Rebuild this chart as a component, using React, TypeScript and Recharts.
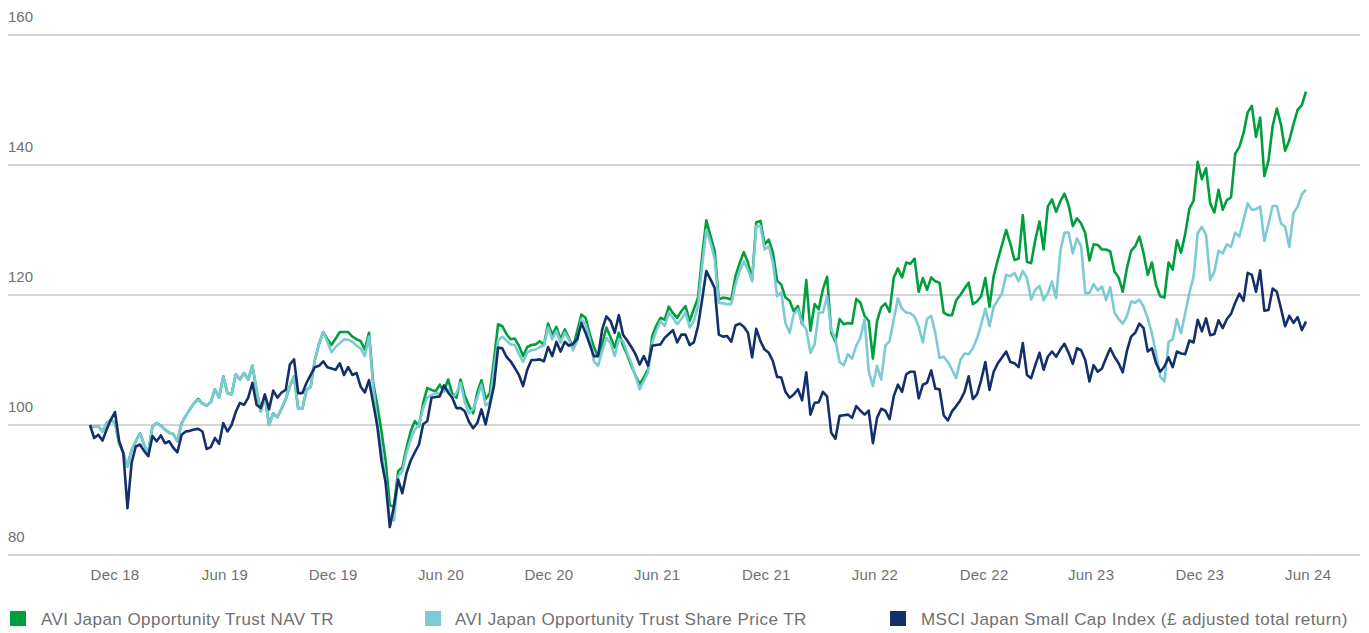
import React from 'react';
import { LineChart, Line, XAxis, YAxis, CartesianGrid } from 'recharts';

// weekly values, index 0 = first week of the series (late Oct 2018)
const navTR = [
  99.8, 99.8, 99.8, 99.0, 100.3, 100.8, 100.3, 97.2, 95.7, 93.6,
  96.2, 97.5, 98.7, 97.0, 95.7, 99.8, 100.3, 99.9, 99.3, 98.8,
  98.6, 97.5, 100.3, 101.4, 102.4, 103.4, 104.0, 103.3, 103.0, 103.5,
  105.5, 104.2, 107.5, 104.9, 104.7, 107.8, 107.0, 108.0, 107.0, 109.1,
  105.4, 102.1, 104.4, 100.0, 101.8, 101.2, 102.5, 104.0, 106.0, 107.5,
  102.5, 102.5, 105.4, 105.9, 110.0, 112.5, 114.3, 113.2, 112.3, 113.3,
  114.3, 114.3, 114.3, 113.6, 113.2, 112.9, 111.6, 114.2, 106.5, 103.0,
  99.0, 94.5, 87.6, 87.5, 92.9, 93.5, 96.5, 99.0, 100.6, 99.8,
  103.4, 105.7, 105.4, 105.2, 106.2, 105.2, 107.0, 104.8, 104.2, 107.0,
  104.5, 103.0, 101.8, 105.0, 106.9, 104.0, 104.9, 110.0, 115.5, 115.2,
  114.0, 113.2, 113.3, 112.2, 110.6, 112.0, 112.3, 112.4, 112.9, 112.3,
  115.6, 113.9, 115.1, 113.2, 114.7, 113.4, 111.9, 114.5, 117.0, 116.5,
  114.0, 112.0, 110.6, 112.5, 115.0, 113.5, 111.9, 114.2, 112.2, 110.8,
  109.1, 107.6, 106.3, 107.3, 108.6, 113.7, 115.3, 116.5, 116.2, 118.2,
  117.2, 116.5, 117.5, 118.3, 116.0, 117.8, 119.6, 126.0, 131.5, 129.1,
  126.8, 119.3, 119.6, 119.5, 119.3, 122.9, 124.9, 126.6, 125.0, 122.4,
  131.2, 131.4, 127.8, 128.5, 126.5, 122.2, 121.6, 119.6, 119.1, 117.5,
  118.3, 115.5, 122.3, 114.5, 118.6, 117.8, 120.9, 122.8, 114.2, 112.8,
  116.3, 115.5, 115.7, 115.6, 119.4, 118.8, 116.8, 116.0, 110.2, 116.0,
  118.1, 118.7, 117.4, 122.6, 124.1, 122.7, 125.0, 124.8, 125.6, 120.5,
  122.6, 120.8, 122.7, 122.1, 121.9, 117.3, 116.9, 116.9, 119.2, 120.0,
  121.0, 121.9, 118.6, 119.0, 119.8, 122.6, 118.2, 122.9, 125.4, 127.7,
  130.0, 127.9, 125.4, 125.6, 132.3, 125.1, 124.9, 128.5, 131.3, 127.0,
  133.6, 134.7, 132.8, 134.4, 135.6, 133.8, 130.6, 131.8, 131.0, 129.5,
  125.3, 127.8, 127.7, 127.0, 127.0, 126.7, 123.6, 122.7, 120.5, 124.1,
  126.8, 127.5, 129.0, 126.4, 123.1, 125.0, 121.5, 119.8, 119.6, 125.0,
  123.9, 128.4, 126.5, 129.4, 133.3, 134.5, 140.5, 137.8, 139.5, 134.1,
  132.7, 136.2, 133.1, 134.6, 135.0, 141.7, 142.8, 144.9, 148.1, 149.1,
  144.3, 147.3, 138.3, 140.7, 146.0, 148.7, 146.2, 142.2, 143.8, 146.3,
  148.5, 149.2, 151.3,
];

const sharePriceTR = [
  99.8, 99.8, 99.8, 99.0, 100.3, 100.8, 100.3, 97.2, 95.7, 93.6,
  96.2, 97.5, 98.7, 97.0, 95.7, 99.8, 100.3, 99.9, 99.3, 98.8,
  98.6, 97.5, 100.3, 101.4, 102.4, 103.4, 103.9, 103.3, 103.0, 103.5,
  105.5, 104.2, 107.5, 104.9, 104.7, 107.8, 107.0, 108.0, 107.0, 109.1,
  105.4, 102.1, 104.4, 100.0, 101.8, 101.2, 102.5, 104.0, 106.0, 107.5,
  102.5, 102.5, 105.4, 105.9, 110.0, 112.5, 114.3, 112.8, 111.2, 112.0,
  112.6, 113.2, 113.1, 112.8, 112.2, 111.8, 110.6, 113.6, 106.0, 100.0,
  96.2, 91.3, 85.4, 85.3, 92.1, 92.9, 95.7, 97.8, 99.3, 100.0,
  102.6, 104.2, 104.6, 104.9, 104.8, 105.3, 105.5, 104.2, 104.9, 106.5,
  103.5, 101.8, 102.5, 104.2, 106.2, 103.0, 103.5, 108.5, 113.0, 113.6,
  113.0, 112.4, 112.3, 110.9, 109.7, 111.2, 111.5, 111.6, 112.0, 112.2,
  115.0, 113.2, 114.5, 112.7, 114.2, 113.2, 111.5, 113.0, 116.3, 115.5,
  113.2, 109.8, 109.1, 111.4, 113.4, 112.6, 110.6, 113.2, 112.9, 111.1,
  109.5, 107.5, 105.5, 106.8, 108.1, 112.7, 114.5, 116.0, 115.2, 117.3,
  116.5, 115.5, 116.3, 117.3, 115.0, 116.0, 118.3, 124.5, 130.0, 128.1,
  125.5, 118.8, 118.7, 118.6, 118.6, 121.6, 123.7, 125.2, 123.9, 122.1,
  130.6, 130.6, 127.0, 127.5, 125.0, 119.8, 120.4, 115.7, 114.2, 117.0,
  117.8, 115.7, 114.7, 111.1, 112.4, 117.3, 117.3, 119.8, 114.7, 113.2,
  109.7, 109.2, 110.9, 110.2, 112.2, 113.4, 116.3, 108.3, 106.0, 109.1,
  107.0, 112.2, 112.9, 116.2, 119.5, 117.9, 117.3, 117.2, 116.7, 115.1,
  112.7, 116.3, 116.8, 114.1, 110.3, 110.5, 109.7, 108.5, 107.2, 110.0,
  111.0, 110.9, 111.8, 113.3, 115.5, 117.9, 115.2, 118.2, 119.2, 120.3,
  123.1, 122.9, 123.4, 122.1, 123.7, 122.6, 119.3, 120.8, 121.4, 119.2,
  120.3, 122.1, 119.5, 126.7, 129.6, 129.6, 126.4, 128.7, 127.5, 120.3,
  120.3, 121.7, 120.7, 121.3, 119.2, 121.2, 117.3, 116.3, 115.6, 116.7,
  119.0, 118.8, 119.3, 118.2, 116.4, 114.1, 111.0, 107.4, 106.7, 112.8,
  113.2, 116.3, 114.1, 117.2, 120.3, 122.8, 129.5, 130.5, 129.2, 122.3,
  123.6, 126.8, 126.4, 127.8, 127.4, 129.6, 129.0, 131.5, 134.1, 133.1,
  133.2, 133.6, 128.3, 131.0, 133.7, 133.7, 131.0, 130.5, 127.4, 132.6,
  133.6, 135.5, 136.2,
];

const msciSmallCap = [
  100.0, 98.0, 98.5, 97.6, 99.3, 100.8, 102.0, 97.5, 95.7, 87.2,
  94.2, 96.7, 97.0, 96.0, 95.2, 98.3, 97.5, 98.4, 97.2, 97.5,
  96.5, 95.8, 98.5, 99.0, 99.1, 99.3, 99.4, 99.0, 96.3, 96.6,
  98.0, 97.1, 100.3, 99.0, 100.0, 102.0, 103.4, 103.1, 104.2, 106.5,
  103.1, 102.6, 104.7, 102.4, 105.3, 104.2, 105.0, 105.4, 109.3, 110.1,
  104.9, 104.9, 106.5, 107.7, 108.9, 109.1, 109.8, 108.9, 108.7, 108.5,
  109.5, 107.7, 108.9, 107.7, 108.0, 105.9, 105.0, 106.9, 103.4, 99.8,
  94.5, 91.1, 84.3, 87.5, 91.6, 89.5, 92.6, 94.5, 95.8, 97.0,
  100.1, 100.6, 104.2, 104.3, 104.4, 106.1, 105.0, 104.2, 102.6, 102.6,
  102.1, 100.5, 99.5, 100.3, 102.4, 100.1, 103.0, 106.0, 111.9, 111.8,
  110.5, 109.8, 108.8, 107.7, 106.0, 108.5, 110.0, 110.0, 110.1, 109.8,
  112.0, 110.6, 112.8, 111.3, 112.8, 112.2, 112.5, 113.2, 115.7, 114.2,
  112.4, 110.6, 110.6, 114.7, 116.7, 116.0, 114.2, 116.9, 113.9, 113.0,
  112.0, 110.9, 109.3, 110.6, 109.1, 112.2, 112.3, 112.4, 113.4, 114.0,
  114.6, 112.7, 113.9, 113.9, 112.3, 112.7, 115.2, 119.3, 123.7, 122.4,
  121.1, 113.9, 113.6, 113.7, 112.8, 115.3, 115.6, 115.1, 114.2, 110.4,
  114.8, 112.9, 111.6, 111.1, 109.8, 107.4, 107.3, 105.1, 104.2, 104.7,
  105.5, 103.8, 108.1, 101.6, 103.4, 103.5, 105.1, 104.4, 98.8, 97.9,
  101.4, 101.5, 101.6, 101.1, 102.9, 102.2, 101.6, 102.2, 97.2, 101.1,
  102.5, 102.2, 100.9, 104.4, 106.2, 105.1, 107.8, 108.2, 108.2, 104.1,
  106.2, 106.5, 108.4, 105.6, 105.5, 101.5, 100.7, 102.1, 102.9, 103.8,
  105.1, 107.5, 104.0, 104.7, 106.9, 109.7, 105.4, 108.2, 109.5, 110.4,
  111.3, 109.7, 109.5, 108.9, 112.6, 107.7, 107.2, 109.2, 111.1, 108.5,
  110.5, 111.3, 110.5, 111.6, 112.5, 111.1, 109.4, 111.8, 111.5, 110.0,
  106.7, 109.2, 108.2, 108.7, 110.3, 111.8, 110.5, 109.5, 108.1, 111.4,
  113.6, 114.2, 115.6, 114.9, 111.3, 111.8, 109.5, 108.2, 109.0, 110.4,
  108.9, 111.3, 111.0, 110.9, 113.0, 112.7, 116.2, 114.4, 116.4, 113.8,
  114.0, 116.1, 114.9, 116.3, 117.1, 118.8, 120.2, 119.1, 123.4, 123.1,
  120.5, 123.8, 117.6, 117.7, 121.0, 120.5, 117.9, 115.2, 116.8, 115.7,
  116.6, 114.6, 115.9,
];

// x-axis ticks, in weeks from the first data point
const tickWeeks = [6, 32.4, 58.4, 84.3, 110.2, 136.2, 162.4, 188.5, 214.7, 240.4, 266.5, 292.5];
const tickLabels = ['Dec 18', 'Jun 19', 'Dec 19', 'Jun 20', 'Dec 20', 'Jun 21', 'Dec 21', 'Jun 22', 'Dec 22', 'Jun 23', 'Dec 23', 'Jun 24'];
const yTicks = [80, 100, 120, 140, 160];

const seriesNames = [
  'AVI Japan Opportunity Trust NAV TR',
  'AVI Japan Opportunity Trust Share Price TR',
  'MSCI Japan Small Cap Index (£ adjusted total return)',
];

const GREEN = '#009e3d';
const TEAL = '#7ccad3';
const NAVY = '#13306b';
const FONT = '"Liberation Sans", Arial, Helvetica, sans-serif';
const TEXT = '#707070';

const data = navTR.map((v, i) => ({
  week: i,
  nav: v,
  price: sharePriceTR[i],
  msci: msciSmallCap[i],
}));

const YTick = ({ y, payload }: any) => (
  <text x={8} y={y - 13} fontSize={15} fill={TEXT} fontFamily={FONT} textAnchor="start">
    {payload.value}
  </text>
);

const XTick = ({ x, payload }: any) => (
  <text x={x} y={580} fontSize={15} fill={TEXT} fontFamily={FONT} textAnchor="middle" letterSpacing={0.2}>
    {tickLabels[tickWeeks.indexOf(payload.value)]}
  </text>
);

const legendPos = [
  { sq: 10, tx: 41, color: GREEN },
  { sq: 425, tx: 455, color: TEAL },
  { sq: 890, tx: 921, color: NAVY },
];

export default function App() {
  return (
    <div style={{ position: 'absolute', left: 0, top: 0, width: 1369, height: 633, background: '#fff' }}>
      <LineChart width={1369} height={590} data={data} margin={{ top: 35, right: 9, left: 7, bottom: 0 }}>
        <CartesianGrid horizontal vertical={false} stroke="#ababab" strokeWidth={1} />
        <XAxis
          dataKey="week"
          type="number"
          domain={[-19.69, 304.97]}
          ticks={tickWeeks}
          interval={0}
          tick={<XTick />}
          axisLine={false}
          tickLine={false}
          height={35}
        />
        <YAxis
          type="number"
          domain={[80, 160]}
          ticks={yTicks}
          interval={0}
          tick={<YTick />}
          axisLine={false}
          tickLine={false}
          width={1}
        />
        <Line type="linear" dataKey="nav" stroke={GREEN} strokeWidth={2.6} dot={false} activeDot={false} isAnimationActive={false} strokeLinejoin="round" />
        <Line type="linear" dataKey="price" stroke={TEAL} strokeWidth={2.6} dot={false} activeDot={false} isAnimationActive={false} strokeLinejoin="round" />
        <Line type="linear" dataKey="msci" stroke={NAVY} strokeWidth={2.6} dot={false} activeDot={false} isAnimationActive={false} strokeLinejoin="round" />
      </LineChart>
      <svg width={1369} height={43} style={{ position: 'absolute', left: 0, top: 590 }}>
        {legendPos.map((p, i) => (
          <g key={seriesNames[i]}>
            <rect x={p.sq} y={21} width={16} height={15} fill={p.color} />
            <text x={p.tx} y={34.5} fontSize={17} fill={TEXT} fontFamily={FONT} letterSpacing={0.45}>
              {seriesNames[i]}
            </text>
          </g>
        ))}
      </svg>
    </div>
  );
}
